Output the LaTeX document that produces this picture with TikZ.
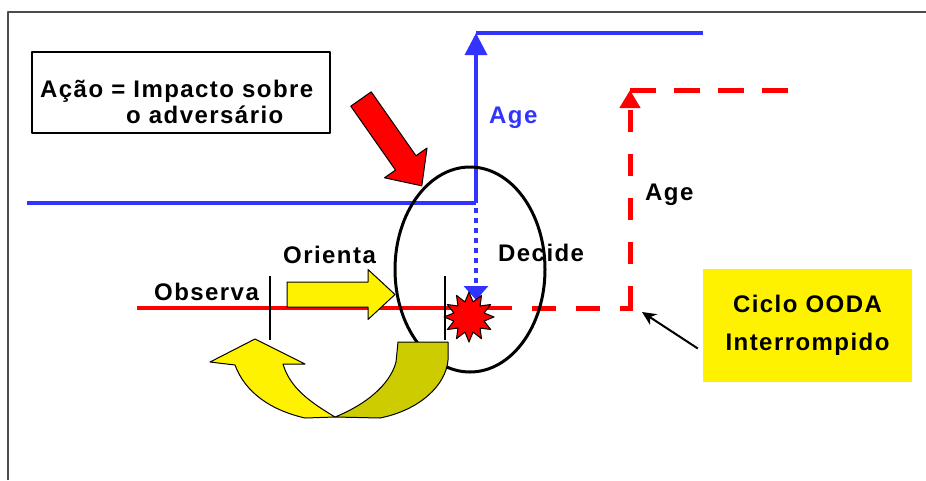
\documentclass[tikz,border=0pt]{standalone}
\usepackage{fontspec}
\setmainfont{Liberation Sans}
\newfontfamily\lblfont[LetterSpace=6]{Liberation Sans}
\usetikzlibrary{arrows.meta,shapes.geometric}
\definecolor{ageblue}{RGB}{51,51,255}
\definecolor{darkyellow}{RGB}{204,204,0}
\begin{document}
\begin{tikzpicture}[x=1pt,y=-1pt,line join=round,>=Triangle]
\tikzset{lbl/.style={font=\lblfont\bfseries\fontsize{24}{26}\selectfont,inner sep=0},
	blueline/.style={ageblue,line width=3.5pt},
	redline/.style={red,line width=3.5pt},
	reddash/.style={red,line width=5pt},
	tick/.style={black,line width=1.2pt},
	block/.style={draw=black,line width=1pt}}
\useasboundingbox (0,0) rectangle (926,480);
% moldura
\draw[black!70,line width=1.5pt] (8,480) -- (8,12) -- (926,12);
% ciclo azul
\draw[blueline] (27,203) -- (476,203);
\draw[blueline,-{Triangle[width=22pt,length=22pt]}] (476,203) -- (476,33);
\draw[blueline] (476,33) -- (703,33);
% ciclo vermelho
\draw[redline] (137,308) -- (512,308);
\draw[reddash,dash pattern=on 24pt off 20pt] (532,308) -- (632.5,308);
\draw[reddash,dash pattern=on 22pt off 22pt,-{Triangle[width=20pt,length=18pt]}] (630,308) -- (630,90);
\draw[reddash,dash pattern=on 26pt off 18pt] (630,90) -- (788,90);
% seta Orienta
\begin{scope}[shift={(287,294.5)}]
	\filldraw[block,fill=yellow] (0,-12.5) -- (81,-12.5) -- (81,-25) -- (108,0) -- (81,25) -- (81,12.5) -- (0,12.5) -- cycle;
\end{scope}
\draw[black,line width=3pt] (470,269.5) ellipse [x radius=75, y radius=102.5];
% seta curva
\filldraw[block,fill=darkyellow] (335,417) -- (380,418) .. controls (420,410) and (446,385) .. (448,360)
	-- (448,342) -- (398,342) -- (396,362) .. controls (390,385) and (365,405) .. (335,417) -- cycle;
\filldraw[block,fill=yellow] (335,417) .. controls (310,402) and (290,388) .. (283,364) -- (305,364)
	-- (255,339) -- (210,362) -- (235,365) .. controls (245,392) and (270,410) .. (305,418) -- cycle;
% decide
\draw[ageblue,line width=4pt,dash pattern=on 5pt off 5pt,-{Triangle[width=24pt,length=14pt]}] (476,208) -- (476,300);
\node[star,star points=12,star point ratio=1.6,fill=red,draw=black,line width=1pt,minimum size=50pt,inner sep=0] (hit) at (469,317) {};
\draw[tick] (270,276) -- (270,340);
\draw[tick] (445,276) -- (445,340);
% impacto
\begin{scope}[shift={(361,99)},rotate=-55]
	\filldraw[block,fill=red] (0,-12.5) -- (78,-12.5) -- (78,-26) -- (106,0) -- (78,26) -- (78,12.5) -- (0,12.5) -- cycle;
\end{scope}
\draw[line width=1.5pt] (32,52) rectangle (330,133);
\node[lbl,align=left,anchor=north west] (acao) at (40,80) {Ação = Impacto sobre\\\hspace*{86pt}o adversário};
% textos
\node[lbl,ageblue,anchor=base west] (ageA) at (489,123) {Age};
\node[lbl,anchor=base west] (ageB) at (645,200) {Age};
\node[lbl,anchor=base west] (decide) at (498,261) {Decide};
\node[lbl,anchor=base west] (orienta) at (283,263) {Orienta};
\node[lbl,anchor=base west] (observa) at (154,300) {Observa};
\node[lbl,fill=yellow,minimum width=209pt,minimum height=113pt,align=center,
	font=\lblfont\bfseries\fontsize{24}{38}\selectfont] (ooda) at (807.5,325.5) {Ciclo OODA\\Interrompido};
\coordinate (gap) at (642,312);
\draw[line width=2pt,-{Stealth[length=14pt,width=13pt]}] ([shift={(-5,23)}]ooda.west) -- (gap);
\end{tikzpicture}
\end{document}
